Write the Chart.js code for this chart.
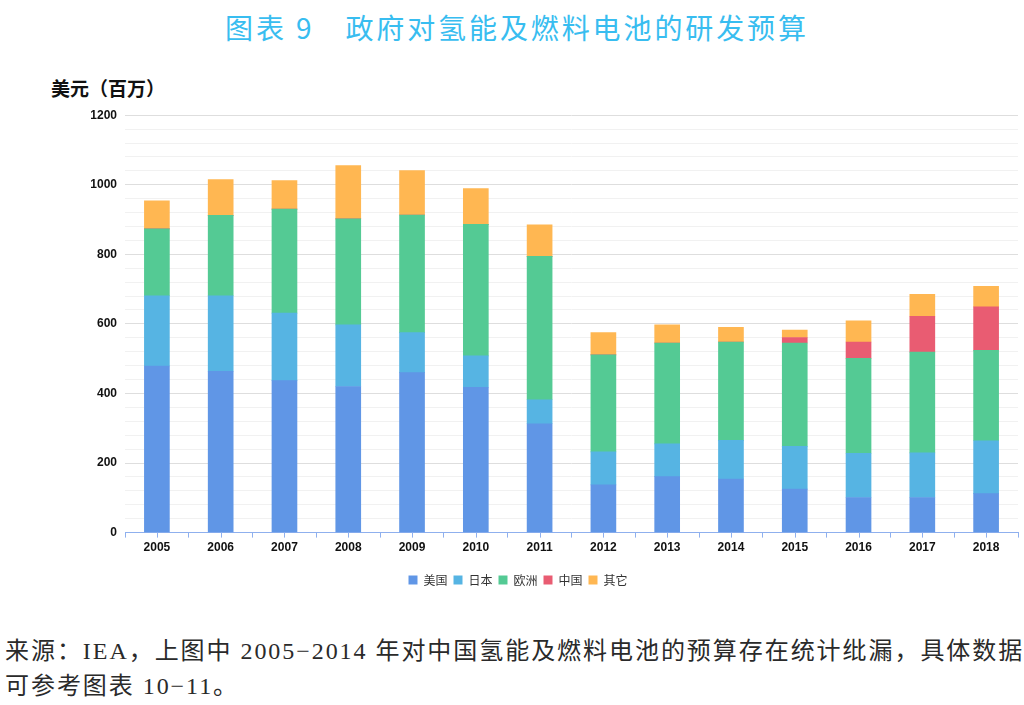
<!DOCTYPE html>
<html>
<head>
<meta charset="utf-8">
<script src="https://cdn.jsdelivr.net/npm/chart.js@4"></script>
<style>
  body { margin: 0; width: 1024px; height: 705px; background: #fff; position: relative; overflow: hidden; }
  #title { position: absolute; top: 7px; left: 0; width: 1034px; text-align: center; font: 28px "Noto Sans CJK SC", sans-serif; color: #38bdf0; letter-spacing: 2.9px; }
  #yTitle { position: absolute; top: 74px; left: 51px; font: bold 19px "Noto Sans CJK SC", sans-serif; color: #111; }
  #note { position: absolute; top: 634px; left: 5px; font: 24px "Liberation Serif", "Noto Sans CJK SC", serif; color: #2a2a2a; line-height: 35px; letter-spacing: 1.95px; white-space: nowrap; }
  #wrap { position: absolute; top: 100px; left: 0; width: 1024px; height: 496px; }
</style>
</head>
<body>
<div id="title">图表 9　政府对氢能及燃料电池的研发预算</div>
<div id="yTitle">美元（百万）</div>
<div id="wrap"><canvas id="c"></canvas></div>
<div id="note">来源：IEA，上图中 2005−2014 年对中国氢能及燃料电池的预算存在统计纰漏，具体数据<br>可参考图表 10−11。</div>
<script>
// --- datos (millones de USD) ---
const years = ['2005','2006','2007','2008','2009','2010','2011','2012','2013','2014','2015','2016','2017','2018'];
const usa    = [479, 464, 437, 420, 460, 418, 313, 137, 161, 154, 125, 101, 101, 112];
const japan  = [202, 217, 194, 177, 115,  90,  69,  95,  94, 111, 123, 127, 128, 152];
const europe = [192, 231, 299, 305, 338, 378, 412, 279, 290, 283, 297, 273, 290, 260];
const china  = [  0,   0,   0,   0,   0,   0,   0,   0,   0,   0,  16,  47, 103, 125];
const others = [ 81, 103,  82, 153, 128, 103,  91,  64,  52,  42,  21,  61,  63,  59];

const seriesNames = ['美国', '日本', '欧洲', '中国', '其它'];
const seriesColors = ['#6096e6', '#56b4e3', '#54ca94', '#e95c72', '#ffb752'];
const axisBlue = '#8fb0ee';

// ticks extra en el centro de cada categoría
const centerTicks = {
    id: 'centerTicks',
    afterDraw(chart) {
        const x = chart.scales.x;
        const ctx = chart.ctx;
        ctx.save();
        ctx.strokeStyle = axisBlue;
        ctx.lineWidth = 1;
        years.forEach((y, i) => {
            const px = Math.round(x.getPixelForValue(i)) + 0.5;
            ctx.beginPath();
            ctx.moveTo(px, x.top);
            ctx.lineTo(px, x.top + 5);
            ctx.stroke();
        });
        ctx.restore();
    }
};

const data = [usa, japan, europe, china, others];

new Chart(document.getElementById('c'), {
    type: 'bar',
    data: {
        labels: years,
        datasets: data.map((d, i) => ({
            label: seriesNames[i],
            data: d,
            backgroundColor: seriesColors[i],
            borderWidth: 0,
            barThickness: 25
        }))
    },
    options: {
        responsive: true,
        maintainAspectRatio: false,
        animation: false,
        layout: { padding: { top: 10, right: 6, left: 18, bottom: 0 } },
        plugins: {
            legend: {
                position: 'bottom',
                labels: {
                    boxWidth: 9, boxHeight: 9, padding: 6,
                    color: '#333',
                    font: { family: '"Noto Sans CJK SC", sans-serif', size: 12 }
                }
            },
            tooltip: { enabled: false }
        },
        scales: {
            x: {
                stacked: true,
                afterFit(scale) { scale.height += 10; },
                grid: { offset: true, drawOnChartArea: false, drawTicks: true, tickLength: 5, color: axisBlue },
                border: { color: axisBlue },
                ticks: { color: '#111', font: { family: '"Liberation Sans", Arial, sans-serif', size: 12, weight: 'bold' }, padding: 3 }
            },
            y: {
                stacked: true,
                min: 0, max: 1200,
                afterFit(scale) { scale.width = 107; },
                border: { display: false },
                grid: {
                    drawTicks: false,
                    color: c => (c.tick && c.tick.value % 200 === 0) ? '#dedede' : '#f1f1f1'
                },
                ticks: {
                    stepSize: 40,
                    autoSkip: false,
                    padding: 8,
                    color: '#111',
                    font: { family: '"Liberation Sans", Arial, sans-serif', size: 12, weight: 'bold' },
                    callback: v => (v % 200 === 0 ? v : '')
                }
            }
        }
    },
    plugins: [centerTicks]
});
</script>
</body>
</html>
